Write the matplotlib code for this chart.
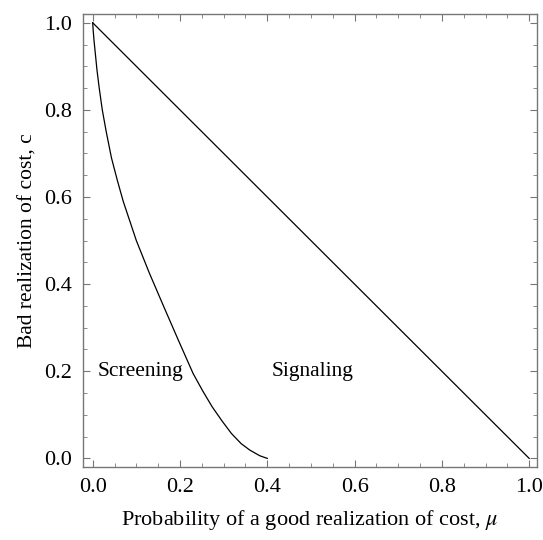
import matplotlib
matplotlib.use('Agg')
import matplotlib.pyplot as plt
from matplotlib.ticker import MultipleLocator

plt.rcParams['font.family'] = ['Liberation Serif', 'DejaVu Serif']
plt.rcParams['mathtext.fontset'] = 'stix'

# boundary between screening and signaling regions
screen_mu = [0.0, 0.001, 0.003, 0.006, 0.010, 0.015, 0.022, 0.031, 0.043, 0.056,
             0.070, 0.085, 0.100, 0.130, 0.163, 0.196, 0.230, 0.252, 0.274, 0.297,
             0.318, 0.340, 0.360, 0.383, 0.400]
screen_c = [1.0, 0.985, 0.96, 0.93, 0.89, 0.85, 0.80, 0.75, 0.69, 0.64,
            0.59, 0.545, 0.50, 0.425, 0.348, 0.272, 0.195, 0.155, 0.118, 0.085,
            0.057, 0.034, 0.019, 0.006, 0.0]

# upper boundary
signal_mu = [0.0, 1.0]
signal_c = [1.0, 0.0]

region_labels = ['Screening', 'Signaling']
region_mu = [0.011, 0.41]
region_c = [0.2, 0.2]

fig = plt.figure(figsize=(5.43, 5.40), dpi=100)
ax = fig.add_axes([0.153, 0.135, 0.836, 0.839])

ax.plot(screen_mu, screen_c, color='black', lw=0.9)
ax.plot(signal_mu, signal_c, color='black', lw=0.9)

for txt, x, y in zip(region_labels, region_mu, region_c):
    ax.text(x, y, txt, fontsize=15.5, ha='left', va='center')

ax.set_xlim(-0.022, 1.018)
ax.set_ylim(-0.02, 1.02)

ax.xaxis.set_major_locator(MultipleLocator(0.2))
ax.xaxis.set_minor_locator(MultipleLocator(0.05))
ax.yaxis.set_major_locator(MultipleLocator(0.2))
ax.yaxis.set_minor_locator(MultipleLocator(0.05))
ax.xaxis.set_major_formatter(matplotlib.ticker.FormatStrFormatter('%.1f'))
ax.yaxis.set_major_formatter(matplotlib.ticker.FormatStrFormatter('%.1f'))

frame = '#777777'
for s in ax.spines.values():
    s.set_color(frame)
    s.set_linewidth(1.0)
ax.tick_params(which='both', direction='in', top=True, right=True,
               color=frame, labelsize=16, labelcolor='black')
ax.tick_params(which='major', length=5, width=0.8, pad=8)
ax.tick_params(which='minor', length=3, width=0.6)

ax.set_xlabel(r'Probability of a good realization of cost, $\mu$', fontsize=16, labelpad=8)
ax.set_ylabel('Bad realization of cost, c', fontsize=15.5, labelpad=5)

fig.savefig('out.png', dpi=100)
